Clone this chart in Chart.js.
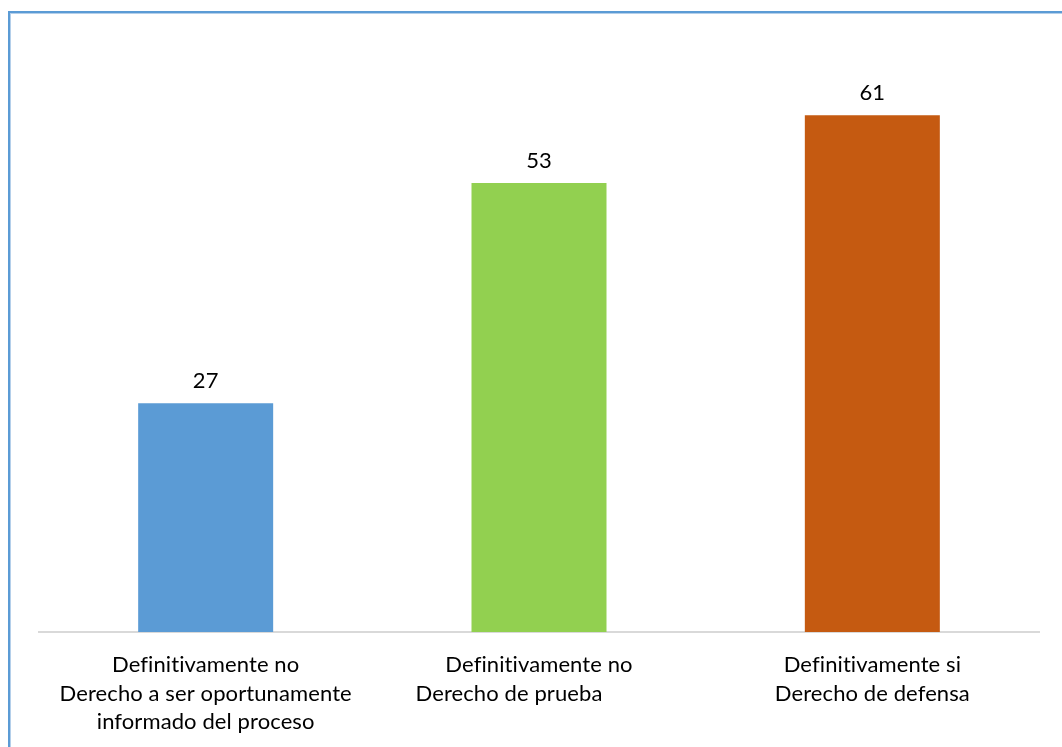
<!DOCTYPE html>
<html>
<head>
<meta charset="utf-8">
<script src="https://cdn.jsdelivr.net/npm/chart.js@4/dist/chart.umd.min.js"></script>
<style>
  html, body { margin: 0; padding: 0; background: #fff; overflow: hidden; }
  #frame {
    position: absolute; left: 8px; top: 11px; width: 1200px; height: 900px;
    border-top: 2px solid #5b9bd5; border-left: 2px solid #5b9bd5;
    box-shadow: inset 1px 1px 0 #b4cfea;
  }
  #wrap { position: absolute; left: 0; top: 0; width: 1062px; height: 747px; }
</style>
</head>
<body>
<div id="frame"></div>
<div id="wrap"><canvas id="surveyChart"></canvas></div>
<script>
// Category labels, one array of lines per bar
const categories = [
    ["Definitivamente no", "Derecho a ser oportunamente", "informado del proceso"],
    ["Definitivamente no", "Derecho de prueba"],
    ["Definitivamente si", "Derecho de defensa"]
];
const responses = [27, 53, 61];
const barColors = ["#5b9bd5", "#92d050", "#c55a11"];
const axisRange = [0, 70];

// horizontal nudge (px) of each label line from the bar centre
const lineShift = [[0, 0, 0], [0, -30], [0, 0]];

const labelFont = "22px Lato";
const lineHeight = 28.5;

const barLabels = {
    id: "barLabels",
    afterDraw(chart) {
        const ctx = chart.ctx;
        const meta = chart.getDatasetMeta(0);
        const xScale = chart.scales.x;
        const bottom = chart.chartArea.bottom;
        ctx.save();
        ctx.font = labelFont;
        ctx.letterSpacing = "0.1px"; // keeps "fi" from joining into a ligature
        ctx.fillStyle = "#000";
        ctx.textAlign = "center";
        ctx.textBaseline = "alphabetic";

        // value above each bar
        meta.data.forEach((bar, i) => {
            ctx.fillText(String(responses[i]), bar.x, bar.y - 15);
        });

        // category text under the axis
        categories.forEach((lines, i) => {
            const cx = xScale.getPixelForValue(i);
            lines.forEach((line, j) => {
                ctx.fillText(line, cx + lineShift[i][j], bottom + 40 + j * lineHeight);
            });
        });
        ctx.restore();
    }
};

const ctx = document.getElementById("surveyChart").getContext("2d");
new Chart(ctx, {
    type: "bar",
    data: {
        labels: categories.map(c => c.join(" ")),
        datasets: [{
            data: responses,
            backgroundColor: barColors,
            borderWidth: 0,
            barPercentage: 0.405,
            categoryPercentage: 1
        }]
    },
    options: {
        responsive: true,
        maintainAspectRatio: false,
        animation: false,
        layout: { padding: { left: 39, right: 23, top: 39, bottom: 115 } },
        plugins: {
            legend: { display: false },
            tooltip: { enabled: false }
        },
        scales: {
            x: {
                z: 1,
                grid: { display: false, drawTicks: false },
                border: { display: true, color: "#d9d9d9", width: 2 },
                ticks: { display: false },
                afterFit(scale) { scale.height = 0; }
            },
            y: {
                display: false,
                min: axisRange[0],
                max: axisRange[1]
            }
        }
    },
    plugins: [barLabels]
});
</script>
</body>
</html>
